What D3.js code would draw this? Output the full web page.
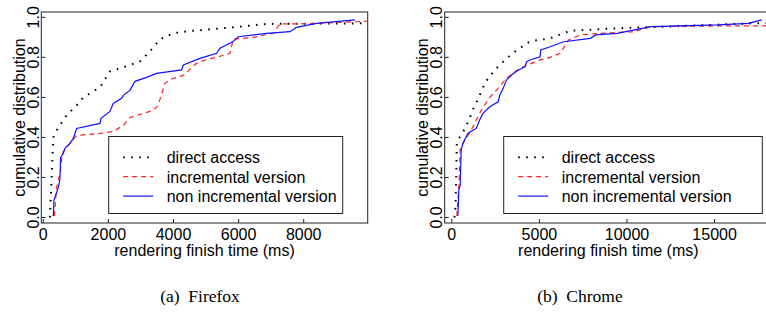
<!DOCTYPE html>
<html lang="en">
<head>
  <meta charset="UTF-8">
  <title>Rendering finish time CDF</title>
  <script src="https://d3js.org/d3.v7.min.js"></script>
  <style>
    body { margin: 0; background: white; }
    svg { display: block; }
    text { font-family: "Liberation Sans", Arial, sans-serif; fill: #000; }
    .caption { font-family: "Liberation Serif", "Times New Roman", serif; white-space: pre; }
  </style>
</head>
<body>
  <svg width="766" height="320"></svg>
  <script>
    // Firefox panel, [time ms, cumulative fraction]
    const firefoxDirect = [[205,0],[307,0.40],[461,0.45],[717,0.51],[1024,0.56],[1229,0.60],[1741,0.65],[2048,0.73],[2458,0.75],[2970,0.78],[3277,0.83],[3584,0.89],[3994,0.92],[4403,0.93],[5837,0.95],[6861,0.967],[9933,0.97]];
    const firefoxIncr = [[338,0.007],[410,0.15],[512,0.22],[563,0.29],[614,0.33],[819,0.37],[1024,0.41],[1741,0.42],[2150,0.43],[2458,0.46],[2662,0.50],[3277,0.53],[3482,0.55],[3584,0.59],[3738,0.67],[3891,0.69],[4301,0.71],[4506,0.74],[4710,0.77],[5017,0.79],[5325,0.80],[5734,0.82],[5837,0.89],[6451,0.90],[7066,0.92],[7271,0.967],[7885,0.967],[9933,0.98]];
    const firefoxNonIncr = [[307,0.007],[328,0.087],[358,0.10],[461,0.15],[512,0.19],[532,0.30],[614,0.32],[666,0.345],[819,0.37],[922,0.395],[1024,0.445],[1741,0.47],[1772,0.495],[2048,0.53],[2150,0.57],[2406,0.595],[2458,0.61],[2662,0.635],[2816,0.68],[3174,0.70],[3482,0.72],[4250,0.737],[4301,0.762],[4813,0.795],[5325,0.82],[5427,0.845],[5734,0.87],[5837,0.88],[5990,0.903],[6861,0.92],[7578,0.928],[7782,0.95],[8397,0.97],[9574,0.987]];

    // Chrome panel
    const chromeDirect = [[153,0],[211,0.05],[249,0.20],[287,0.37],[441,0.40],[728,0.44],[1015,0.495],[1207,0.54],[1494,0.59],[1782,0.65],[2069,0.695],[2548,0.745],[3123,0.795],[3698,0.835],[4464,0.88],[5614,0.895],[6763,0.933],[9446,0.945],[13278,0.957],[17110,0.97],[18068,0.97]];
    const chromeIncr = [[287,0.007],[345,0.087],[402,0.15],[479,0.34],[632,0.37],[920,0.41],[1111,0.437],[1399,0.487],[1686,0.537],[2165,0.60],[2644,0.645],[3123,0.695],[3602,0.728],[4081,0.753],[4560,0.77],[5039,0.787],[5614,0.80],[6189,0.82],[6668,0.887],[7338,0.912],[8488,0.92],[10404,0.928],[11362,0.953],[15194,0.957],[18068,0.957]];
    const chromeNonIncr = [[345,0.007],[402,0.137],[479,0.16],[536,0.337],[632,0.37],[920,0.42],[1054,0.428],[1399,0.445],[1590,0.487],[1782,0.52],[2165,0.553],[2644,0.578],[2740,0.612],[2931,0.645],[3123,0.687],[3410,0.712],[3794,0.737],[4177,0.753],[4273,0.778],[4464,0.787],[5039,0.803],[5077,0.837],[5614,0.853],[6380,0.878],[7913,0.895],[8200,0.912],[9446,0.92],[11362,0.953],[15194,0.962],[16919,0.97],[17685,0.987]];

    const yTicks = [0, 0.2, 0.4, 0.6, 0.8, 1.0];
    const firefoxXTicks = [0, 2000, 4000, 6000, 8000];
    const chromeXTicks = [0, 5000, 10000, 15000];
    const seriesNames = ["direct access", "incremental version", "non incremental version"];
    const captions = ["(a)  Firefox", "(b)  Chrome"];

    const styles = [
      { stroke: "#000", width: 2, dash: "1.6,6.4" },
      { stroke: "#ff2020", width: 1.2, dash: "5,4" },
      { stroke: "#1010ff", width: 1.2, dash: null }
    ];

    const svg = d3.select("svg");
    const y = d3.scaleLinear().domain([-0.0275, 1.0265]).range([223, 12]);

    function panel(opts, idx) {
      const x = d3.scaleLinear().domain(opts.xDomain).range(opts.xRange);
      const g = svg.append("g");
      const [x0, x1] = opts.xRange;
      const [yb, yt] = y.range();

      const clipId = "clip" + idx;
      svg.append("clipPath").attr("id", clipId)
        .append("rect").attr("x", x0).attr("y", yt).attr("width", x1 - x0).attr("height", yb - yt);

      const line = d3.line().x(d => x(d[0])).y(d => y(d[1]));
      const lines = g.append("g").attr("clip-path", `url(#${clipId})`);
      opts.series.forEach((s, i) => {
        lines.append("path").datum(s)
          .attr("d", line)
          .attr("fill", "none")
          .attr("stroke", styles[i].stroke)
          .attr("stroke-width", styles[i].width)
          .attr("stroke-dasharray", styles[i].dash);
      });

      // frame
      g.append("rect")
        .attr("x", x0).attr("y", yt).attr("width", x1 - x0).attr("height", yb - yt)
        .attr("fill", "none").attr("stroke", "#222").attr("stroke-width", 1);

      // x ticks point inward
      opts.xTicks.forEach(t => {
        g.append("line").attr("x1", x(t)).attr("x2", x(t)).attr("y1", yb).attr("y2", yb - 4)
          .attr("stroke", "#222");
        g.append("text").attr("x", x(t)).attr("y", 239.5).attr("text-anchor", "middle")
          .attr("font-size", 16).text(t);
      });

      yTicks.forEach(t => {
        g.append("line").attr("x1", x0).attr("x2", x0 + 4).attr("y1", y(t)).attr("y2", y(t))
          .attr("stroke", "#222");
        g.append("text")
          .attr("transform", `translate(${x0 - 2.8},${y(t)}) rotate(-90)`)
          .attr("text-anchor", "middle").attr("font-size", 16)
          .text(d3.format(".1f")(t));
      });

      g.append("text")
        .attr("transform", `translate(${x0 - 16.5},${(yb + yt) / 2}) rotate(-90)`)
        .attr("text-anchor", "middle").attr("font-size", 16)
        .text("cumulative distribution");

      g.append("text").attr("x", (x0 + x1) / 2).attr("y", 256)
        .attr("text-anchor", "middle").attr("font-size", 16)
        .text("rendering finish time (ms)");

      // legend
      const lg = g.append("g");
      lg.append("rect").attr("x", opts.legendX).attr("y", 136.5)
        .attr("width", opts.legendW).attr("height", 77)
        .attr("fill", "white").attr("stroke", "#222").attr("stroke-width", 1);
      seriesNames.forEach((name, i) => {
        const ly = 157.3 + i * 19.4;
        lg.append("line")
          .attr("x1", opts.legendX + 14.5).attr("x2", opts.legendX + 44.5)
          .attr("y1", ly).attr("y2", ly)
          .attr("stroke", styles[i].stroke)
          .attr("stroke-width", styles[i].width)
          .attr("stroke-dasharray", styles[i].dash);
        lg.append("text").attr("x", opts.legendX + 58).attr("y", ly + 5.8)
          .attr("font-size", 16).text(name);
      });

      svg.append("text").attr("class", "caption")
        .attr("x", opts.captionX).attr("y", 301.5)
        .attr("text-anchor", "middle").attr("font-size", 17.5)
        .text(opts.caption);
    }

    panel({
      xDomain: [-61, 9966], xRange: [41.3, 367.7],
      series: [firefoxDirect, firefoxIncr, firefoxNonIncr],
      xTicks: firefoxXTicks, legendX: 108.7, legendW: 234,
      captionX: 200, caption: captions[0]
    }, 0);

    panel({
      xDomain: [-405, 18277], xRange: [444.7, 772],
      series: [chromeDirect, chromeIncr, chromeNonIncr],
      xTicks: chromeXTicks, legendX: 503.7, legendW: 258.6,
      captionX: 580, caption: captions[1]
    }, 1);
  </script>
</body>
</html>
